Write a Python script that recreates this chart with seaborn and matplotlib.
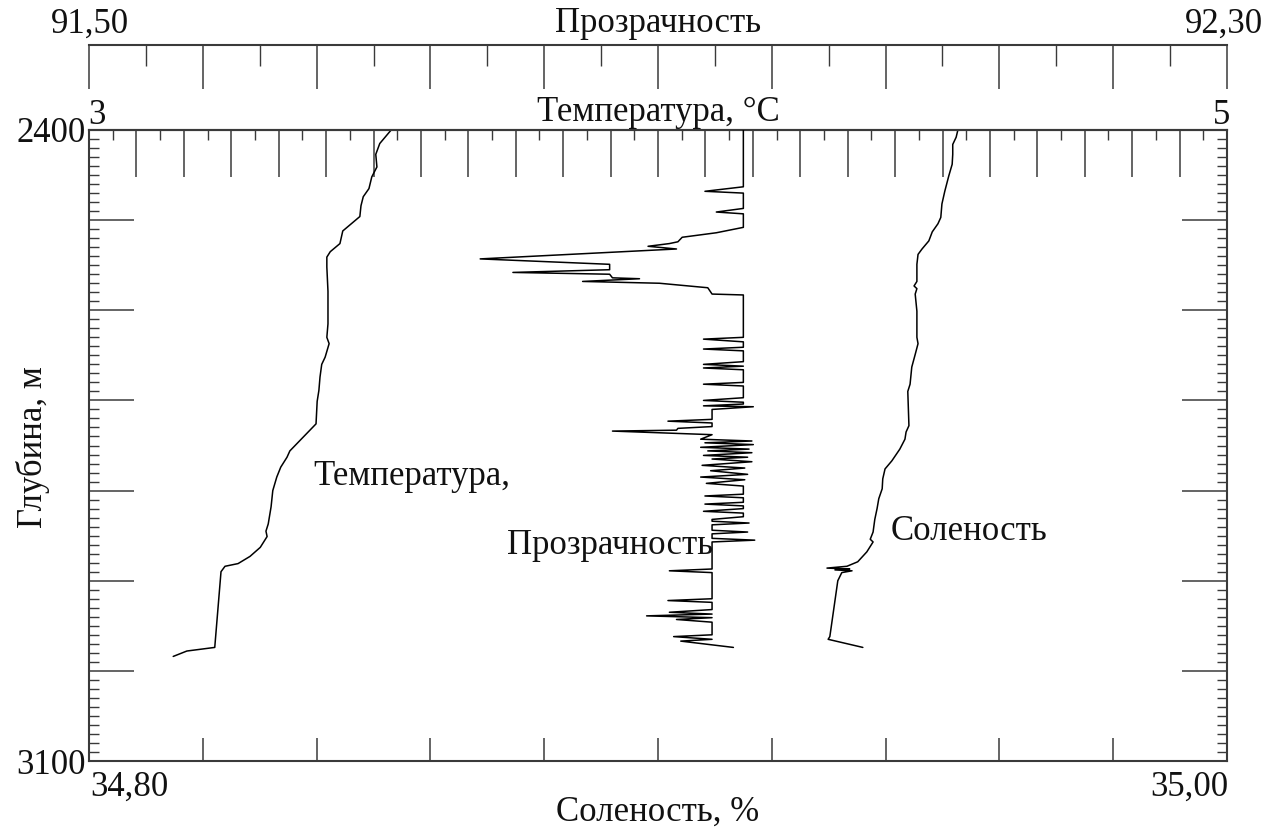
import matplotlib
matplotlib.use('Agg')
import matplotlib.pyplot as plt
import seaborn as sns
import pandas as pd
import numpy as np
from matplotlib.ticker import MultipleLocator, FixedLocator, NullFormatter

# ---------------- data ----------------
temp_depth = [2400, 2415, 2427, 2441, 2452, 2465, 2474, 2484, 2496, 2512, 2526, 2535,
              2541, 2552, 2579, 2615, 2630, 2637, 2652, 2660, 2674, 2689, 2701, 2726,
              2741, 2756, 2763, 2774, 2785, 2800, 2818, 2837, 2845, 2851, 2863, 2873,
              2881, 2884, 2890, 2974, 2978, 2984]
temp_value = [3.531, 3.511, 3.504, 3.506, 3.497, 3.492, 3.482, 3.478, 3.476, 3.446, 3.441, 3.424,
              3.418, 3.418, 3.420, 3.420, 3.418, 3.422, 3.415, 3.409, 3.406, 3.404, 3.401, 3.399,
              3.376, 3.353, 3.348, 3.337, 3.330, 3.323, 3.320, 3.315, 3.311, 3.313, 3.301, 3.283,
              3.262, 3.239, 3.232, 3.221, 3.172, 3.148]

sal_depth = [2400, 2408, 2416, 2427, 2438, 2451, 2468, 2482, 2497, 2504, 2513, 2523,
             2532, 2538, 2549, 2568, 2573, 2576, 2582, 2601, 2630, 2637, 2649, 2663,
             2682, 2690, 2728, 2735, 2743, 2754, 2767, 2776, 2787, 2798, 2809, 2820,
             2832, 2846, 2854, 2857, 2868, 2879, 2884, 2886, 2887, 2888, 2889, 2891,
             2900, 2962, 2965, 2974]
sal_value = [34.9527, 34.9524, 34.9518, 34.9518, 34.9517, 34.9511, 34.9504, 34.9499, 34.9497,
             34.9492, 34.9482, 34.9476, 34.9464, 34.9457, 34.9455, 34.9455, 34.9450, 34.9455,
             34.9452, 34.9455, 34.9455, 34.9457, 34.9452, 34.9446, 34.9443, 34.9439, 34.9441,
             34.9436, 34.9434, 34.9425, 34.9411, 34.9399, 34.9395, 34.9394, 34.9388, 34.9385,
             34.9381, 34.9378, 34.9373, 34.9378, 34.9367, 34.9351, 34.9332, 34.9297, 34.9337,
             34.9311, 34.9341, 34.9323, 34.9316, 34.9302, 34.9299, 34.9360]

tr_depth = [2400, 2463, 2468, 2470, 2487, 2491, 2493, 2508, 2514, 2519, 2524, 2526,
            2529, 2532, 2543, 2549, 2555, 2558, 2560, 2564, 2565, 2568, 2570, 2575,
            2582, 2583, 2630, 2632, 2635, 2641, 2643, 2645, 2657, 2660, 2662, 2664,
            2666, 2680, 2682, 2684, 2697, 2700, 2702, 2704, 2706, 2707, 2710, 2721,
            2723, 2725, 2729, 2731, 2733, 2734, 2738, 2743, 2745, 2747, 2749, 2752,
            2754, 2756, 2758, 2761, 2763, 2765, 2768, 2772, 2775, 2778, 2782, 2785,
            2788, 2792, 2795, 2804, 2806, 2808, 2813, 2815, 2817, 2820, 2823, 2825,
            2829, 2832, 2834, 2836, 2838, 2844, 2846, 2848, 2853, 2855, 2857, 2887,
            2889, 2891, 2920, 2922, 2924, 2932, 2935, 2937, 2939, 2941, 2943, 2946,
            2960, 2962, 2965, 2967, 2974]
tr_value = [91.960, 91.960, 91.933, 91.960, 91.960, 91.941, 91.960, 91.960, 91.941, 91.917,
            91.914, 91.908, 91.893, 91.913, 91.775, 91.866, 91.866, 91.798, 91.866, 91.868,
            91.887, 91.847, 91.901, 91.935, 91.938, 91.960, 91.960, 91.932, 91.960, 91.960,
            91.932, 91.960, 91.960, 91.932, 91.960, 91.932, 91.960, 91.960, 91.932, 91.960,
            91.960, 91.932, 91.960, 91.960, 91.932, 91.967, 91.938, 91.938, 91.907, 91.938,
            91.938, 91.914, 91.913, 91.868, 91.938, 91.930, 91.966, 91.933, 91.967, 91.930,
            91.964, 91.935, 91.966, 91.932, 91.963, 91.938, 91.966, 91.931, 91.961, 91.937,
            91.963, 91.930, 91.961, 91.934, 91.960, 91.960, 91.933, 91.960, 91.960, 91.933,
            91.960, 91.960, 91.932, 91.960, 91.960, 91.938, 91.938, 91.964, 91.938, 91.938,
            91.963, 91.938, 91.938, 91.968, 91.938, 91.938, 91.908, 91.938, 91.938, 91.907,
            91.938, 91.938, 91.908, 91.938, 91.892, 91.938, 91.913, 91.938, 91.938, 91.911,
            91.938, 91.916, 91.953]

depth_range = (3100, 2400)
sal_range = (34.80, 35.00)
temp_range = (3, 5)
tr_range = (91.50, 92.30)

# ---------------- style ----------------
sns.set_style('white')
plt.rcParams['font.family'] = ['Liberation Serif', 'DejaVu Serif']
FS = 25
AX_COL = '#3a3a3a'

W, H = 1279, 829
fig = plt.figure(figsize=(W / 100, H / 100), dpi=100)
L, R, T, B = 89, 1227, 131, 762
ax = fig.add_axes([L / W, 1 - B / H, (R - L) / W, (B - T) / H])
ax_t = ax.twiny()
ax_p = ax.twiny()

line_kw = dict(sort=False, estimator=None, color='black', linewidth=1.1)
sns.lineplot(data=pd.DataFrame({'s': sal_value, 'd': sal_depth}), x='s', y='d', ax=ax, **line_kw)
sns.lineplot(data=pd.DataFrame({'t': temp_value, 'd': temp_depth}), x='t', y='d', ax=ax_t, **line_kw)
sns.lineplot(data=pd.DataFrame({'p': tr_value, 'd': tr_depth}), x='p', y='d', ax=ax_p, **line_kw)

ax.set_xlim(*sal_range)
ax.set_ylim(*depth_range)
ax_t.set_xlim(*temp_range)
ax_p.set_xlim(*tr_range)
for a in (ax, ax_t, ax_p):
    a.set_xlabel('')
    a.set_ylabel('')

# main axes (salinity bottom, depth left/right)
for s in ax.spines.values():
    s.set_color(AX_COL)
    s.set_linewidth(1.5)
ax.xaxis.set_major_locator(FixedLocator(np.linspace(sal_range[0], sal_range[1], 11)))
ax.xaxis.set_major_formatter(NullFormatter())
ax.tick_params(axis='x', which='major', direction='in', length=16.6, width=1.1,
               color=AX_COL, bottom=True, top=False, labelbottom=False)
ax.yaxis.set_major_locator(MultipleLocator(100))
ax.yaxis.set_minor_locator(MultipleLocator(10))
ax.yaxis.set_major_formatter(NullFormatter())
ax.tick_params(axis='y', which='major', direction='in', length=32.4, width=1.1,
               color=AX_COL, left=True, right=True, labelleft=False)
ax.tick_params(axis='y', which='minor', direction='in', length=7.2, width=1.0,
               color=AX_COL, left=True, right=True)

# temperature axis (top of main)
for k in ('bottom', 'left', 'right'):
    ax_t.spines[k].set_visible(False)
ax_t.spines['top'].set_color(AX_COL)
ax_t.spines['top'].set_linewidth(1.5)
ax_t.xaxis.set_major_locator(FixedLocator(np.linspace(temp_range[0], temp_range[1], 25)))
ax_t.xaxis.set_minor_locator(FixedLocator(np.linspace(temp_range[0], temp_range[1], 49)))
ax_t.xaxis.set_major_formatter(NullFormatter())
ax_t.tick_params(axis='x', which='major', direction='in', length=33.8, width=1.1,
                 color=AX_COL, top=True, labeltop=False)
ax_t.tick_params(axis='x', which='minor', direction='in', length=7.2, width=1.0,
                 color=AX_COL, top=True)

# transparency axis (offset above)
for k in ('bottom', 'left', 'right'):
    ax_p.spines[k].set_visible(False)
ax_p.spines['top'].set_position(('outward', 61.2))
ax_p.spines['top'].set_color(AX_COL)
ax_p.spines['top'].set_linewidth(1.5)
ax_p.xaxis.set_major_locator(FixedLocator(np.linspace(tr_range[0], tr_range[1], 11)))
ax_p.xaxis.set_minor_locator(FixedLocator(np.linspace(tr_range[0], tr_range[1], 21)))
ax_p.xaxis.set_major_formatter(NullFormatter())
ax_p.tick_params(axis='x', which='major', direction='in', length=31.7, width=1.1,
                 color=AX_COL, top=True, labeltop=False)
ax_p.tick_params(axis='x', which='minor', direction='in', length=15.1, width=1.0,
                 color=AX_COL, top=True)


def ftext(x, y, s, **kw):
    fig.text(x / W, 1 - y / H, s, fontsize=FS, color='#111111', **kw)


ftext(90, 24, '91,50', ha='center', va='center')
ftext(658, 24, 'Прозрачность', ha='center', va='center')
ftext(1224, 24, '92,30', ha='center', va='center')
ftext(97, 116, '3', ha='center', va='center')
ftext(658, 113, 'Температура, °C', ha='center', va='center')
ftext(1222, 116, '5', ha='center', va='center')
ftext(86, 133, '2400', ha='right', va='center')
ftext(86, 766, '3100', ha='right', va='center')
ftext(90, 787, '34,80', ha='left', va='center')
ftext(1228, 787, '35,00', ha='right', va='center')
ftext(658, 812, 'Соленость, %', ha='center', va='center')
ftext(33, 447, 'Глубина, м', ha='center', va='center', rotation=90)
ftext(313, 477, 'Температура,', ha='left', va='center')
ftext(507, 545, 'Прозрачность', ha='left', va='center')
ftext(891, 532, 'Соленость', ha='left', va='center')

fig.savefig('out.png', dpi=100)
